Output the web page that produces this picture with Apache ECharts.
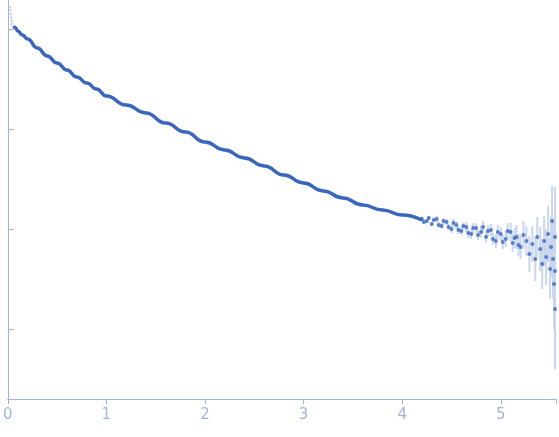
<!DOCTYPE html>
<html><head><meta charset="utf-8">
<script src="https://cdn.jsdelivr.net/npm/echarts@6/dist/echarts.min.js"></script>
<style>html,body{margin:0;padding:0;background:#fff}#c{width:559px;height:437px}</style>
</head><body><div id="c"></div>
<script>
let chart = echarts.init(document.getElementById('c'));

/* faded low-q points: q, log10 I */
let qLow = [0.02, 0.025, 0.03, 0.035, 0.04, 0.045];
let logLow = [0.22, 0.19, 0.15, 0.11, 0.08, 0.05];

/* main curve: q, log10 I */
let qMain = [0.06,0.08,0.1,0.15,0.2,0.3,0.4,0.5,0.6,0.7,0.8,0.9,1.0,1.2,1.4,1.6,1.8,2.0,2.2,2.4,2.6,2.8,3.0,3.2,3.4,3.6,3.8,4.0,4.2];
let logMain = [0.03,0.01,-0.02,-0.06,-0.10,-0.19,-0.27,-0.34,-0.41,-0.48,-0.54,-0.60,-0.67,-0.76,-0.84,-0.94,-1.03,-1.13,-1.21,-1.29,-1.37,-1.46,-1.54,-1.62,-1.69,-1.76,-1.81,-1.86,-1.91];

/* noisy tail: q, log10 I, log10 error */
let qTail = [4.2,4.22,4.25,4.27,4.3,4.32,4.35,4.37,4.4,4.42,4.45,4.47,4.5,4.52,4.55,4.57,4.6,4.62,4.65,4.67,4.7,4.72,4.75,4.77,4.8,4.82,4.85,4.87,4.9,4.92,4.95,4.97,5.0,5.02,5.05,5.07,5.1,5.12,5.14,5.16,5.18,5.2,5.23,5.26,5.29,5.32,5.35,5.37,5.4,5.42,5.44,5.46,5.48,5.5,5.51,5.52,5.53,5.54,5.55,5.55,5.55];
let logTail = [-1.90,-1.93,-1.92,-1.89,-1.95,-1.91,-1.90,-1.96,-1.97,-1.92,-1.93,-1.98,-2.00,-1.94,-1.96,-2.01,-2.02,-1.97,-1.98,-2.04,-2.05,-1.99,-1.99,-2.06,-2.03,-1.98,-2.08,-2.02,-2.01,-2.10,-2.12,-2.03,-2.05,-2.13,-2.10,-2.02,-2.03,-2.14,-2.09,-2.08,-2.16,-2.18,-2.06,-2.12,-2.25,-2.15,-2.30,-2.08,-2.20,-2.35,-2.12,-2.28,-2.05,-2.40,-2.18,-1.92,-2.30,-2.55,-2.08,-2.42,-2.80];
let logErr = [0.02,0.02,0.02,0.02,0.02,0.02,0.03,0.03,0.03,0.03,0.03,0.03,0.04,0.04,0.04,0.04,0.04,0.04,0.05,0.05,0.05,0.05,0.05,0.05,0.06,0.06,0.06,0.06,0.06,0.06,0.07,0.07,0.07,0.07,0.08,0.08,0.09,0.09,0.10,0.12,0.11,0.12,0.14,0.15,0.18,0.18,0.22,0.20,0.22,0.25,0.25,0.28,0.28,0.30,0.3,0.35,0.4,0.45,0.5,0.5,0.6];

let yTicks = [1, 0.1, 0.01, 0.001];

let pw = v => Math.pow(10, v);
let low = qLow.map((q, i) => [q, pw(logLow[i])]);
let main = qMain.map((q, i) => [q, pw(logMain[i])]);
let tail = qTail.map((q, i) => [q, pw(logTail[i])]);
let errs = qTail.map((q, i) => [q, pw(logTail[i] - logErr[i]), pw(logTail[i] + logErr[i])]);

chart.setOption({
  animation: false,
  grid: { left: 5, right: 0, top: 0, bottom: 38 },
  xAxis: {
    type: 'value', min: 0, max: 5.56, interval: 1,
    axisLine: { lineStyle: { color: '#a4b4d8' } },
    axisTick: { length: 5, lineStyle: { color: '#a4b4d8' } },
    axisLabel: { color: '#a4b4d8', fontSize: 15, fontFamily: 'DejaVu Sans', margin: 9,
      formatter: v => v > 5.2 ? '' : v },
    splitLine: { show: false }
  },
  yAxis: {
    type: 'log', min: pw(-3.70), max: pw(0.29),
    axisLine: { show: true, lineStyle: { color: '#a4b4d8' } },
    axisTick: { show: true, inside: true, length: 6, customValues: yTicks, lineStyle: { color: '#a4b4d8' } },
    axisLabel: { show: false },
    splitLine: { show: false }
  },
  series: [
    {
      type: 'custom', data: errs, z: 1,
      renderItem: (p, api) => {
        let a = api.coord([api.value(0), api.value(1)]);
        let b = api.coord([api.value(0), api.value(2)]);
        return { type: 'line', shape: { x1: a[0], y1: a[1], x2: b[0], y2: b[1] },
          style: { stroke: '#c9d6ee', lineWidth: 2 } };
      }
    },
    { type: 'scatter', data: low, symbolSize: 3, itemStyle: { color: '#c4cdea' } },
    { type: 'line', data: main, smooth: 0.5, smoothMonotone: 'x', showSymbol: false,
      lineStyle: { color: '#3a66bd', width: 3.5 } },
    { type: 'scatter', data: tail, symbolSize: 4, itemStyle: { color: '#3a66bd' }, z: 3 }
  ]
});
</script></body></html>
